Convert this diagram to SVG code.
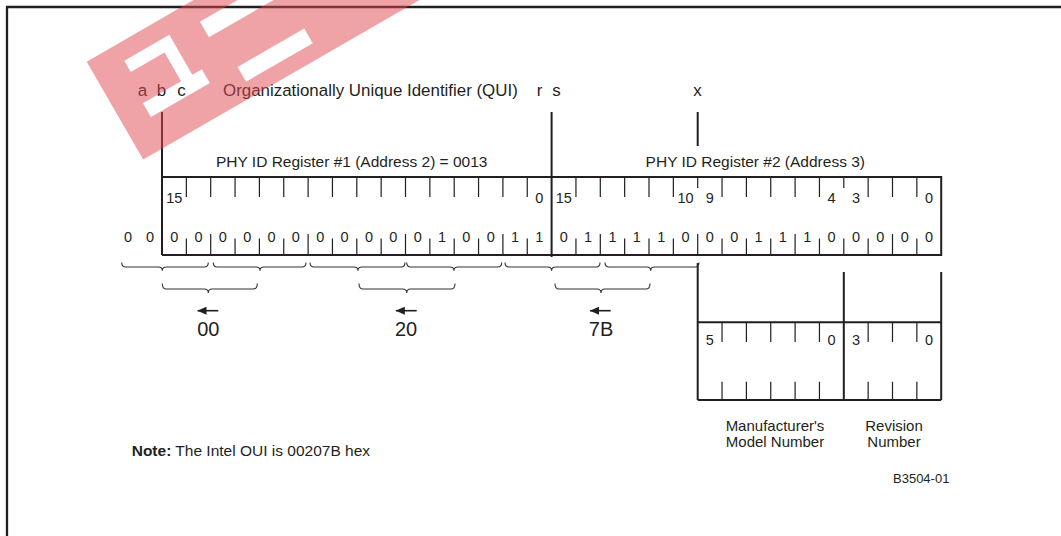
<svg xmlns="http://www.w3.org/2000/svg" width="1061" height="536" viewBox="0 0 1061 536">
<defs>
<style>
.t{font-family:"Liberation Sans",Arial,Helvetica,sans-serif;fill:#231f20}
.lb{font-size:16.9px}
.ti{font-size:15.5px}
.lo{font-size:15px}
.d{font-size:14.5px;text-anchor:middle}
.big{font-size:20px;text-anchor:middle}
.m{text-anchor:middle}
.ln{stroke:#231f20;fill:none}
.bx{stroke-width:2}
.tk{stroke-width:1.2}
.br{stroke-width:1.1;stroke:#333}
.ar{stroke-width:1.6}
</style>
<marker id="ah" viewBox="0 0 9 8" refX="9" refY="4" markerWidth="9" markerHeight="8" markerUnits="userSpaceOnUse" orient="auto">
<path d="M0,0L9,4L0,8Z" fill="#231f20"/>
</marker>
</defs>
<rect width="1061" height="536" fill="#fff"/>
<g id="frame" class="ln" stroke-width="2.3">
<path d="M7 536V7H1061"/>
</g>

<g id="labels" class="t lb">
<text x="142.5" y="96" class="m">a</text>
<text x="161.5" y="96" class="m">b</text>
<text x="181.5" y="96" class="m">c</text>
<text x="223" y="96">Organizationally Unique Identifier (QUI)</text>
<text x="539.5" y="96" class="m">r</text>
<text x="556.5" y="96" class="m">s</text>
<text x="697.5" y="96" class="m">x</text>
</g>

<g id="connectors" class="ln">
<path class="bx" d="M162 112V255M551.6 112V257M697.7 112V146"/>
<path class="bx" d="M697.7 263V400M843.8 272V400M941.2 272V400"/>
<path class="br" d="M121.7 262.5Q121.7 267 125.7 267H158.3Q162.3 267 162.3 270.7Q162.3 267 166.3 267H204.3Q208.3 267 208.3 262.5M213.3 262.5Q213.3 267 217.3 267H256Q260 267 260 270.7Q260 267 264 267H302Q306 267 306 262.5M310 262.5Q310 267 314 267H354Q358 267 358 270.7Q358 267 362 267H401Q405 267 405 262.5M406.7 262.5Q406.7 267 410.7 267H450Q454 267 454 270.7Q454 267 458 267H497.7Q501.7 267 501.7 262.5M505 262.5Q505 267 509 267H547.6Q551.6 267 551.6 270.7Q551.6 267 555.6 267H596Q600 267 600 262.5M605 262.5Q605 267 609 267H646.7Q650.7 267 650.7 270.7Q650.7 267 654.7 267H695Q699 267 699 262.5"/>
<path class="br" d="M162.3 283.5Q162.3 289 166.3 289H204.3Q208.3 289 208.3 293Q208.3 289 212.3 289H253.3Q257.3 289 257.3 283.5M359 283.5Q359 289 363 289H402.7Q406.7 289 406.7 293Q406.7 289 410.7 289H451Q455 289 455 283.5M555 283.5Q555 289 559 289H597Q601 289 601 293Q601 289 605 289H646Q650 289 650 283.5"/>
<path class="ar" marker-end="url(#ah)" d="M218.3 310.7H197.5"/>
<path class="ar" marker-end="url(#ah)" d="M416.7 310.7H395.8"/>
<path class="ar" marker-end="url(#ah)" d="M610.7 310.7H590"/>
</g>

<g id="register1">
<text x="351.7" y="167.3" class="t ti m">PHY ID Register #1 (Address 2) = 0013</text>
<path class="ln bx" d="M162 177H551.6M162 255H551.6"/>
<path class="ln tk" d="M186.35 177V197M210.7 177V197M235.05 177V197M259.4 177V197M283.75 177V197M308.1 177V197M332.45 177V197M356.8 177V197M381.15 177V197M405.5 177V197M429.85 177V197M454.2 177V197M478.55 177V197M502.9 177V197M527.25 177V197"/>
<path class="ln tk" d="M186.35 238.5V255M210.7 234V255M235.05 238.5V255M259.4 238.5V255M283.75 238.5V255M308.1 234V255M332.45 238.5V255M356.8 238.5V255M381.15 238.5V255M405.5 234V255M429.85 238.5V255M454.2 238.5V255M478.55 238.5V255M502.9 234V255M527.25 238.5V255"/>
<g class="t d">
<text x="174.2" y="202.7">15</text>
<text x="539.4" y="202.7">0</text>
<text x="128" y="241.7">0</text>
<text x="150" y="241.7">0</text>
<text x="174.2" y="241.7">0</text>
<text x="198.5" y="241.7">0</text>
<text x="222.9" y="241.7">0</text>
<text x="247.2" y="241.7">0</text>
<text x="271.6" y="241.7">0</text>
<text x="295.9" y="241.7">0</text>
<text x="320.3" y="241.7">0</text>
<text x="344.6" y="241.7">0</text>
<text x="369" y="241.7">0</text>
<text x="393.3" y="241.7">0</text>
<text x="417.7" y="241.7">0</text>
<text x="442" y="241.7">1</text>
<text x="466.4" y="241.7">0</text>
<text x="490.7" y="241.7">0</text>
<text x="515.1" y="241.7">1</text>
<text x="539.4" y="241.7">1</text>
</g>
</g>

<g id="register2">
<text x="755.3" y="167.3" class="t ti m">PHY ID Register #2 (Address 3)</text>
<path class="ln bx" d="M551.6 177H941.2V255H551.6"/>
<path class="ln tk" d="M575.95 177V197M600.3 177V197M624.65 177V197M649 177V197M673.35 177V197M697.7 177V188M722.05 177V197M746.4 177V197M770.75 177V197M795.1 177V197M819.45 177V197M843.8 177V188M868.15 177V197M892.5 177V197M916.85 177V197"/>
<path class="ln tk" d="M575.95 238.5V255M600.3 234V255M624.65 238.5V255M649 238.5V255M673.35 238.5V255M697.7 234V255M722.05 238.5V255M746.4 238.5V255M770.75 238.5V255M795.1 234V255M819.45 238.5V255M843.8 238.5V255M868.15 238.5V255M892.5 234V255M916.85 238.5V255"/>
<g class="t d">
<text x="563.8" y="202.7">15</text>
<text x="685.5" y="202.7">10</text>
<text x="709.9" y="202.7">9</text>
<text x="831.6" y="202.7">4</text>
<text x="856" y="202.7">3</text>
<text x="929" y="202.7">0</text>
<text x="563.8" y="241.7">0</text>
<text x="588.1" y="241.7">1</text>
<text x="612.5" y="241.7">1</text>
<text x="636.8" y="241.7">1</text>
<text x="661.2" y="241.7">1</text>
<text x="685.5" y="241.7">0</text>
<text x="709.9" y="241.7">0</text>
<text x="734.2" y="241.7">0</text>
<text x="758.6" y="241.7">1</text>
<text x="782.9" y="241.7">1</text>
<text x="807.3" y="241.7">1</text>
<text x="831.6" y="241.7">0</text>
<text x="856" y="241.7">0</text>
<text x="880.3" y="241.7">0</text>
<text x="904.7" y="241.7">0</text>
<text x="929" y="241.7">0</text>
</g>
</g>

<g id="oui-bytes" class="t big">
<text x="208.3" y="336">00</text>
<text x="406" y="336">20</text>
<text x="601" y="336">7B</text>
</g>

<g id="model-revision">
<path class="ln bx" d="M697.7 322.3H941.2M697.7 400H941.2"/>
<path class="ln tk" d="M722.05 322.3V342M746.4 322.3V342M770.75 322.3V342M795.1 322.3V342M819.45 322.3V342M868.15 322.3V342M892.5 322.3V342M916.85 322.3V342M722.05 381.7V400M746.4 381.7V400M770.75 381.7V400M795.1 381.7V400M819.45 381.7V400M868.15 381.7V400M892.5 381.7V400M916.85 381.7V400"/>
<g class="t d">
<text x="709.9" y="345">5</text>
<text x="831.6" y="345">0</text>
<text x="856" y="345">3</text>
<text x="929" y="345">0</text>
</g>
<g class="t lo m">
<text x="775" y="431">Manufacturer's</text>
<text x="775" y="447">Model Number</text>
<text x="894" y="431">Revision</text>
<text x="894" y="447">Number</text>
</g>
</g>

<g id="note" class="t ti">
<text x="131.7" y="455.7"><tspan font-weight="bold">Note:</tspan> The Intel OUI is 00207B hex</text>
</g>
<g id="figure-id" class="t">
<text x="893" y="483" font-size="13px">B3504-01</text>
</g>

<g id="watermark" fill="#e04750" opacity="0.5" transform="translate(86.7 61.7) rotate(-30)">
<path fill-rule="evenodd" d="M0 0H420V113H0Z M33 18H85V64H96V80H28V64H72V31H33Z M118 22H200V40H118Z M128 80H205V97H128Z"/>
</g>
</svg>
